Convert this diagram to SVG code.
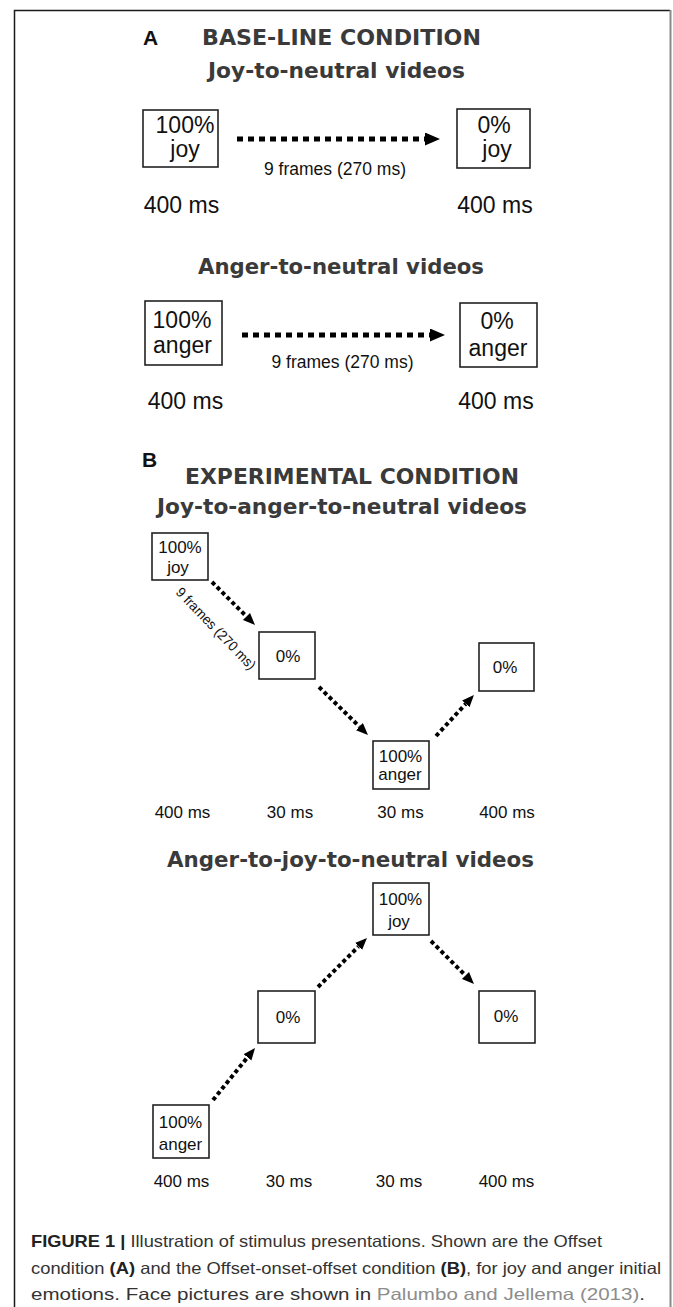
<svg xmlns="http://www.w3.org/2000/svg" width="673" height="1307" viewBox="0 0 673 1307">
<style>
.hd{font-family:"DejaVu Sans",Verdana,sans-serif;font-weight:bold;font-size:21px;fill:#3a3a3a}
.lt{font-family:"Liberation Sans",Arial,sans-serif;font-weight:bold;font-size:21px;fill:#111}
.ta{font-family:"Liberation Sans",Arial,sans-serif;font-size:23px;fill:#111;text-anchor:middle}
.tf{font-family:"Liberation Sans",Arial,sans-serif;font-size:17.5px;fill:#111;text-anchor:middle}
.tb{font-family:"Liberation Sans",Arial,sans-serif;font-size:17px;fill:#111;text-anchor:middle}
.tr{font-family:"Liberation Sans",Arial,sans-serif;font-size:14px;fill:#111}
.box{fill:#fff;stroke:#222;stroke-width:1.6}
.arA{fill:none;stroke:#000;stroke-width:5;stroke-dasharray:6 5;marker-end:url(#hA)}
.arB{fill:none;stroke:#000;stroke-width:4;stroke-dasharray:4 3;marker-end:url(#hB)}
.cap{font-family:"Liberation Sans",Arial,sans-serif;font-size:16.5px;fill:#333}
.cb{font-weight:bold;fill:#222}
.cl{fill:#8c8c8c}
</style>
<defs>
<marker id="hA" markerUnits="userSpaceOnUse" markerWidth="16" markerHeight="14" refX="0" refY="6.5" orient="auto"><path d="M0,0 L15,6.5 L0,13 z" fill="#000"/></marker>
<marker id="hB" markerUnits="userSpaceOnUse" markerWidth="13" markerHeight="11" refX="0" refY="5" orient="auto"><path d="M0,0 L12,5 L0,10 z" fill="#000"/></marker>
</defs>
<rect width="673" height="1307" fill="#fff"/>
<g id="frame">
<path d="M14.5,1307 V10.5 H670" fill="none" stroke="#1a1a1a" stroke-width="1.5"/>
<path d="M670.5,10 V1307" fill="none" stroke="#8a8a8a" stroke-width="2"/>
</g>
<g id="headers">
<text class="lt" x="143" y="45">A</text>
<text class="hd" x="202" y="45" textLength="279" lengthAdjust="spacingAndGlyphs">BASE-LINE CONDITION</text>
<text class="hd" x="208" y="78" textLength="257" lengthAdjust="spacingAndGlyphs">Joy-to-neutral videos</text>
<text class="hd" x="198" y="274" textLength="286" lengthAdjust="spacingAndGlyphs">Anger-to-neutral videos</text>
<text class="lt" x="142" y="467">B</text>
<text class="hd" x="185" y="484" textLength="334" lengthAdjust="spacingAndGlyphs">EXPERIMENTAL CONDITION</text>
<text class="hd" x="157" y="514" textLength="370" lengthAdjust="spacingAndGlyphs">Joy-to-anger-to-neutral videos</text>
<text class="hd" x="167" y="867" textLength="367" lengthAdjust="spacingAndGlyphs">Anger-to-joy-to-neutral videos</text>
</g>
<g id="connectors">
<line class="arA" x1="237" y1="139" x2="425" y2="139"/>
<line class="arA" x1="242" y1="335" x2="430" y2="335"/>
<line class="arB" x1="212" y1="582" x2="246.5" y2="616.5"/>
<line class="arB" x1="319" y1="687" x2="359.4" y2="726.6"/>
<line class="arB" x1="436" y1="736" x2="465.8" y2="703.8"/>
<line class="arB" x1="213" y1="1100" x2="247.5" y2="1057.3"/>
<line class="arB" x1="318" y1="987" x2="358.5" y2="946.5"/>
<line class="arB" x1="431" y1="941" x2="465.5" y2="975.5"/>
<text class="tf" x="335" y="175">9 frames (270 ms)</text>
<text class="tf" x="342.5" y="368">9 frames (270 ms)</text>
<text class="tr" x="175" y="593" textLength="108" lengthAdjust="spacingAndGlyphs" transform="rotate(46 175 593)">9 frames (270 ms)</text>
</g>
<g id="nodeA1"><rect class="box" x="143" y="110" width="75" height="57"/><text class="ta" x="185" y="133">100%</text><text class="ta" x="185" y="157">joy</text></g>
<g id="nodeA2"><rect class="box" x="457" y="109" width="73" height="59"/><text class="ta" x="494" y="133">0%</text><text class="ta" x="497" y="157">joy</text></g>
<g id="nodeA3"><rect class="box" x="145" y="301" width="77" height="64"/><text class="ta" x="182" y="328">100%</text><text class="ta" x="182.5" y="353">anger</text></g>
<g id="nodeA4"><rect class="box" x="460" y="303" width="77" height="64"/><text class="ta" x="497" y="329">0%</text><text class="ta" x="498" y="356">anger</text></g>
<g id="timesA">
<text class="ta" x="181.5" y="213">400 ms</text>
<text class="ta" x="495" y="213">400 ms</text>
<text class="ta" x="185.5" y="409">400 ms</text>
<text class="ta" x="496" y="409">400 ms</text>
</g>
<g id="nodeB1"><rect class="box" x="152" y="533" width="56" height="47"/><text class="tb" x="180" y="553">100%</text><text class="tb" x="178" y="573">joy</text></g>
<g id="nodeB2"><rect class="box" x="259" y="632" width="56" height="47"/><text class="tb" x="288" y="662">0%</text></g>
<g id="nodeB3"><rect class="box" x="373" y="741" width="56" height="48"/><text class="tb" x="400.5" y="762">100%</text><text class="tb" x="400" y="780">anger</text></g>
<g id="nodeB4"><rect class="box" x="479" y="643" width="55" height="48"/><text class="tb" x="505" y="673">0%</text></g>
<g id="timesB1">
<text class="tb" x="182.5" y="818">400 ms</text>
<text class="tb" x="290" y="818">30 ms</text>
<text class="tb" x="400.5" y="818">30 ms</text>
<text class="tb" x="507" y="818">400 ms</text>
</g>
<g id="nodeC1"><rect class="box" x="373" y="883" width="56" height="52"/><text class="tb" x="400.5" y="905">100%</text><text class="tb" x="399" y="927">joy</text></g>
<g id="nodeC2"><rect class="box" x="258" y="991" width="57" height="52"/><text class="tb" x="288" y="1023">0%</text></g>
<g id="nodeC3"><rect class="box" x="479" y="991" width="56" height="52"/><text class="tb" x="506" y="1022">0%</text></g>
<g id="nodeC4"><rect class="box" x="153" y="1105" width="56" height="53"/><text class="tb" x="180.5" y="1128">100%</text><text class="tb" x="180.5" y="1150">anger</text></g>
<g id="timesB2">
<text class="tb" x="181.5" y="1187">400 ms</text>
<text class="tb" x="289" y="1187">30 ms</text>
<text class="tb" x="399" y="1187">30 ms</text>
<text class="tb" x="506.5" y="1187">400 ms</text>
</g>
<g id="caption">
<text class="cap" x="31" y="1247" textLength="571" lengthAdjust="spacingAndGlyphs"><tspan class="cb">FIGURE 1 |</tspan> Illustration of stimulus presentations. Shown are the Offset</text>
<text class="cap" x="31" y="1274" textLength="630" lengthAdjust="spacingAndGlyphs">condition <tspan class="cb">(A)</tspan> and the Offset-onset-offset condition <tspan class="cb">(B)</tspan>, for joy and anger initial</text>
<text class="cap" x="31" y="1300" textLength="614" lengthAdjust="spacingAndGlyphs">emotions. Face pictures are shown in <tspan class="cl">Palumbo and Jellema (2013)</tspan>.</text>
</g>
</svg>
